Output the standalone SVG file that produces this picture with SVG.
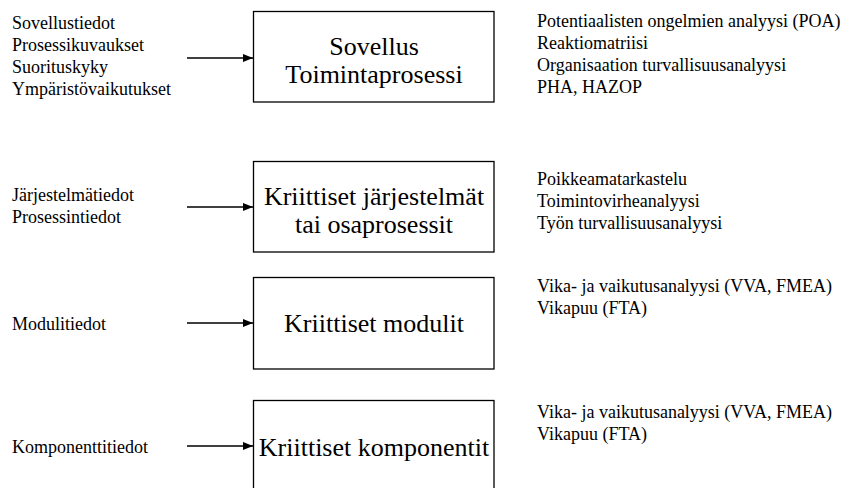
<svg xmlns="http://www.w3.org/2000/svg" width="846" height="488" viewBox="0 0 846 488">
<defs>
<marker id="ah" markerWidth="10" markerHeight="8" refX="10" refY="4" orient="auto" markerUnits="userSpaceOnUse">
<path d="M0,0 L10,4 L0,8 Z" fill="#000"/>
</marker>
<style>
.box{fill:#fff;stroke:#000;stroke-width:1.3}
.bt{font-family:"Liberation Serif","Times New Roman",serif;font-size:26px;fill:#000;text-anchor:middle}
.st{font-family:"Liberation Serif","Times New Roman",serif;font-size:18px;fill:#000}
.ar{stroke:#000;stroke-width:1.3;fill:none;marker-end:url(#ah)}
</style>
</defs>
<rect width="846" height="488" fill="#fff"/>
<g id="node1">
<rect class="box" x="253.5" y="11.5" width="240.5" height="90.5"/>
<text class="bt" x="374" y="55">Sovellus</text>
<text class="bt" x="374" y="83">Toimintaprosessi</text>
</g>
<g id="node2">
<rect class="box" x="253.5" y="161.5" width="240.5" height="90.5"/>
<text class="bt" x="374" y="205">Kriittiset järjestelmät</text>
<text class="bt" x="374" y="233">tai osaprosessit</text>
</g>
<g id="node3">
<rect class="box" x="253.5" y="277.5" width="240.5" height="91.5"/>
<text class="bt" x="374" y="332">Kriittiset modulit</text>
</g>
<g id="node4">
<rect class="box" x="253.5" y="400.5" width="240.5" height="92"/>
<text class="bt" x="374" y="456">Kriittiset komponentit</text>
</g>
<g id="inputs">
<text class="st" x="12" y="29">Sovellustiedot</text>
<text class="st" x="12" y="51">Prosessikuvaukset</text>
<text class="st" x="12" y="73">Suorituskyky</text>
<text class="st" x="12" y="95">Ympäristövaikutukset</text>
<text class="st" x="12" y="201">Järjestelmätiedot</text>
<text class="st" x="12" y="223">Prosessintiedot</text>
<text class="st" x="12" y="330">Modulitiedot</text>
<text class="st" x="12" y="453">Komponenttitiedot</text>
</g>
<g id="methods">
<text class="st" x="537" y="27">Potentiaalisten ongelmien analyysi (POA)</text>
<text class="st" x="537" y="49">Reaktiomatriisi</text>
<text class="st" x="537" y="71">Organisaation turvallisuusanalyysi</text>
<text class="st" x="537" y="93">PHA, HAZOP</text>
<text class="st" x="537" y="185">Poikkeamatarkastelu</text>
<text class="st" x="537" y="207">Toimintovirheanalyysi</text>
<text class="st" x="537" y="229">Työn turvallisuusanalyysi</text>
<text class="st" x="537" y="292">Vika- ja vaikutusanalyysi (VVA, FMEA)</text>
<text class="st" x="537" y="314">Vikapuu (FTA)</text>
<text class="st" x="537" y="418">Vika- ja vaikutusanalyysi (VVA, FMEA)</text>
<text class="st" x="537" y="440">Vikapuu (FTA)</text>
</g>
<g id="connectors">
<line class="ar" x1="187" y1="58" x2="253" y2="58"/>
<line class="ar" x1="187" y1="207" x2="253" y2="207"/>
<line class="ar" x1="187" y1="323" x2="253" y2="323"/>
<line class="ar" x1="187" y1="446" x2="253" y2="446"/>
</g>
</svg>
